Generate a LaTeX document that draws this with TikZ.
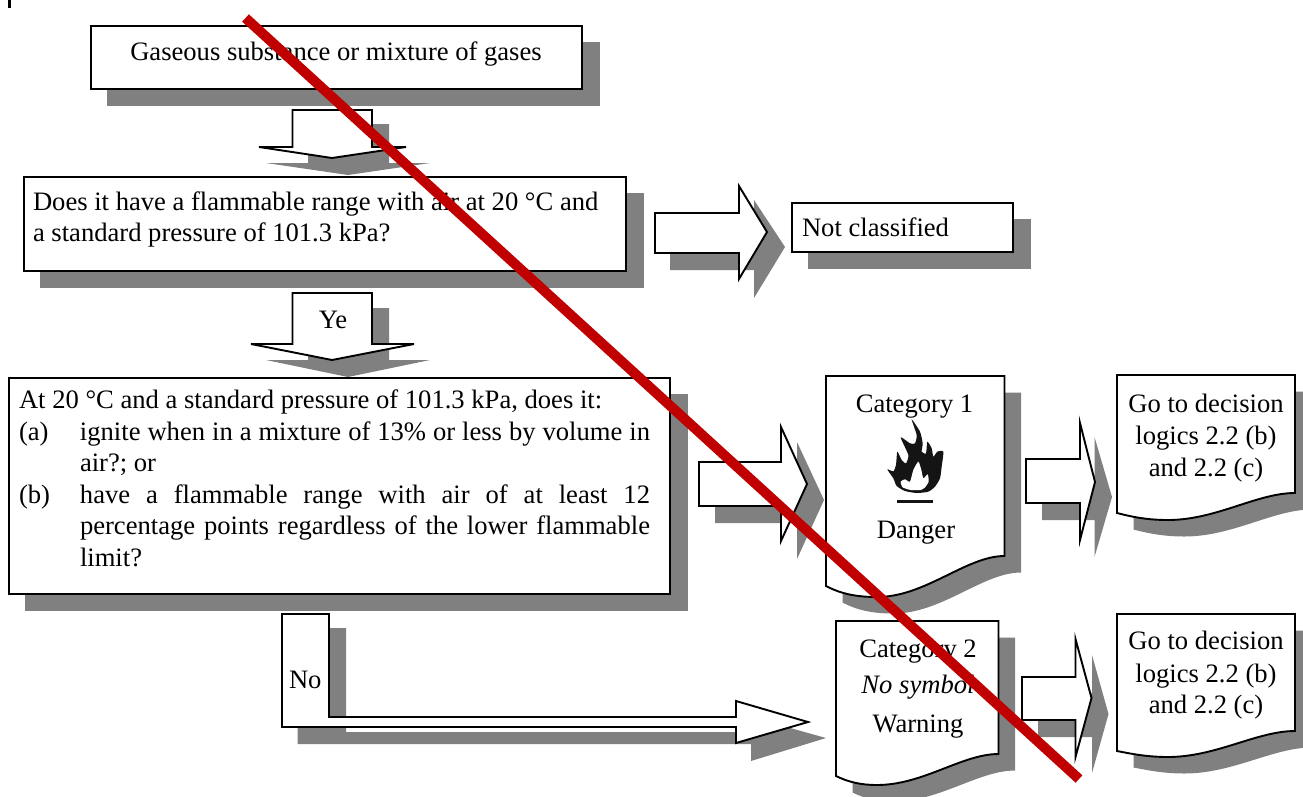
\documentclass[tikz,border=0pt]{standalone}
\usepackage{fontspec}
\setmainfont{Liberation Serif}
\tikzset{
  shadowfill/.style={fill=shadowgray,draw=none},
  outline/.style={draw=black,line width=1.9pt,fill=white,miter limit=10},
  boxnode/.style={rectangle,draw=black,line width=1.9pt,fill=white,inner sep=0pt,outer sep=0pt},
  txt/.style={inner sep=0pt,outer sep=0pt,font=\fontsize{26.6pt}{31.5pt}\selectfont},
  lbase/.style={txt,anchor=base},
  lwest/.style={txt,anchor=base west},
}
\definecolor{shadowgray}{HTML}{808080}
\definecolor{crossred}{HTML}{C00000}
% name x1 y1 x2 y2 : box with drop shadow
\newcommand{\shadowbox}[5]{%
  \fill[shadowfill] ({#2+15.5},{#3+15.5}) rectangle ({#4+17.5},{#5+17});
  \pgfmathsetmacro{\bw}{#4-#2}\pgfmathsetmacro{\bh}{#5-#3}%
  \node[boxnode,minimum width=\bw pt,minimum height=\bh pt] (#1) at ({(#2+#4)/2},{(#3+#5)/2}) {};
}
% x1 y1 x2 yr yl xm ym : document box (wavy lower edge)
\newcommand{\docpath}[7]{(#1,#2) -- (#3,#2) -- (#3,#4) .. controls ({#3-0.30*(#3-#6)},#4) and ({#6+0.38*(#3-#6)},#7) .. (#6,#7) .. controls ({#6-0.4*(#6-#1)},#7) and ({#1+0.3*(#6-#1)},{#7-3}) .. (#1,#5) -- cycle}
\newcommand{\docshape}[7]{%
  \fill[shadowfill,shift={(16.5,16.5)}] \docpath{#1}{#2}{#3}{#4}{#5}{#6}{#7};
  \draw[outline] \docpath{#1}{#2}{#3}{#4}{#5}{#6}{#7};
}
\begin{document}
\begin{tikzpicture}[x=1pt,y=-1pt]
\useasboundingbox (0,0) rectangle (1303,796);
\clip (0,0) rectangle (1303,796);
\fill[white] (0,0) rectangle (1303,796);
\coordinate (tickA) at (9.5,0); \coordinate (tickB) at (9.5,8);
\draw[black,line width=2.2pt] (tickA) -- (tickB);

% boxes
\shadowbox{start}{91}{26}{582}{89}
\shadowbox{rangeq}{24}{177}{626}{271}
\shadowbox{notcl}{792}{203}{1013}{252}

% down arrow 1
\fill[shadowfill] (308,124) -- (389,124) -- (389,163) -- (430,163) -- (348,175) -- (266,163) -- (308,163) -- cycle;
\draw[outline] (292.5,110) -- (372,110) -- (372,147) -- (406,147) -- (332,158) -- (259,147) -- (292.5,147) -- cycle;
% down arrow 2
\fill[shadowfill] (308,308) -- (389,308) -- (389,360) -- (430,360) -- (348,377) -- (266,360) -- (308,360) -- cycle;
\draw[outline] (292.5,293) -- (372,293) -- (372,344) -- (414,344) -- (332,360) -- (251,344) -- (292.5,344) -- cycle;
% right arrow to Not classified
\fill[shadowfill] (670,228) -- (754,228) -- (754,200) -- (785,247) -- (754,298) -- (754,270) -- (670,270) -- cycle;
\draw[outline] (655,213) -- (739,213) -- (739,186) -- (767,232) -- (739,279) -- (739,253) -- (655,253) -- cycle;

\shadowbox{limits}{9}{378}{670}{594}

% right arrow to category 1
\fill[shadowfill] (715,478) -- (797,478) -- (797,442) -- (824,500) -- (797,559) -- (797,523) -- (715,523) -- cycle;
\draw[outline] (699,462) -- (781,462) -- (781,427) -- (807,484) -- (781,541) -- (781,506) -- (699,506) -- cycle;
% right arrow to go-to 1
\fill[shadowfill] (1042,475) -- (1094.5,475) -- (1094.5,437) -- (1112,497) -- (1094.5,557) -- (1094.5,520) -- (1042,520) -- cycle;
\draw[outline] (1026,459) -- (1080,459) -- (1080,423) -- (1095,482) -- (1080,540) -- (1080,503) -- (1026,503) -- cycle;
% right arrow to go-to 2
\fill[shadowfill] (1038,693) -- (1092,693) -- (1092,655) -- (1108.5,714) -- (1092,773) -- (1092,737) -- (1038,737) -- cycle;
\draw[outline] (1022,677) -- (1075.5,677) -- (1075.5,639) -- (1091.5,698) -- (1075.5,757) -- (1075.5,720) -- (1022,720) -- cycle;
% No arrow
\fill[shadowfill] (297.5,628) -- (346,628) -- (346,732) -- (751,732) -- (751,717) -- (826,738) -- (751,761) -- (751,744) -- (297.5,744) -- cycle;
\draw[outline] (282,614) -- (329,614) -- (329,717) -- (736,717) -- (736,701) -- (808,722) -- (736,743) -- (736,727) -- (282,727) -- cycle;

% document boxes
\docshape{826}{376}{1004.5}{556}{586}{877}{597}
\docshape{836}{621}{998.5}{754}{776}{877}{785}
\docshape{1117}{375}{1295}{493}{513}{1168}{520}
\docshape{1117}{614}{1295}{731}{751}{1168}{757}

% flame symbol
\begin{scope}[shift={(880,410)},scale=1/3]
  \fill[black!92] plot[smooth cycle,tension=0.35] coordinates {(75,243) (50,228) (40,205) (22,178) (40,184) (48,165) (52,125) (65,150) (78,160) (85,135) (62,82) (90,100) (105,100) (110,75) (95,28) (120,65) (128,100) (125,125) (138,130) (142,95) (155,115) (160,140) (172,125) (190,125) (185,170) (180,205) (165,230) (145,245) (110,249)};
  \fill[white] plot[smooth cycle,tension=0.35] coordinates {(92,240) (68,232) (62,215) (75,208) (90,215) (100,180) (115,155) (124,180) (130,205) (143,193) (146,215) (135,232) (122,240)};
  \fill[black!92] (52,271) rectangle (160,279);
\end{scope}

% texts
\node[lbase] (t1) at (336,60.5) {Gaseous substance or mixture of gases};
\node[lwest] (t2a) at (33,210) {Does it have a flammable range with air at 20 °C and};
\node[lwest] (t2b) at (33,241) {a standard pressure of 101.3 kPa?};
\node[lwest] (t3) at (802,236) {Not classified};
\node[lbase] (ye) at (333,328) {Ye};
\node[lwest] (no) at (289,688) {No};
\node[txt,anchor=north west,text width=631pt] (t4) at (19,390) {%
  \spaceskip=0pt \xspaceskip=0pt \baselineskip=31.5pt
  At 20 °C and a standard pressure of 101.3 kPa, does it:\par
  \hbox to 631pt{\hbox to 61pt{(a)\hfil}\hbox to 570pt{ignite when in a mixture of 13\% or less by volume in}}\par
  \hspace*{61pt}air?; or\par
  \hbox to 631pt{\hbox to 61pt{(b)\hfil}\hbox to 570pt{have a flammable range with air of at least 12}}\par
  \hbox to 631pt{\hskip 61pt\hbox to 570pt{percentage points regardless of the lower flammable}}\par
  \hspace*{61pt}limit?\par};
\node[lbase] (c1) at (914.5,412) {Category 1};
\node[lbase] (c1d) at (916,538) {Danger};
\node[lbase] (c2) at (918,657) {Category 2};
\node[lbase] (c2n) at (918,693) {\itshape No symbol};
\node[lbase] (c2w) at (918,732) {Warning};
\node[lbase] (g1a) at (1206,412) {Go to decision};
\node[lbase] (g1b) at (1206,444) {logics 2.2 (b)};
\node[lbase] (g1c) at (1206,476) {and 2.2 (c)};
\node[lbase] (g2a) at (1206,649) {Go to decision};
\node[lbase] (g2b) at (1206,682) {logics 2.2 (b)};
\node[lbase] (g2c) at (1206,713) {and 2.2 (c)};

% red strike-through
\coordinate (redA) at (245.5,18);
\coordinate (redB) at (1079,779);
\draw[crossred,line width=10pt] (redA) -- (redB);
\end{tikzpicture}
\end{document}
